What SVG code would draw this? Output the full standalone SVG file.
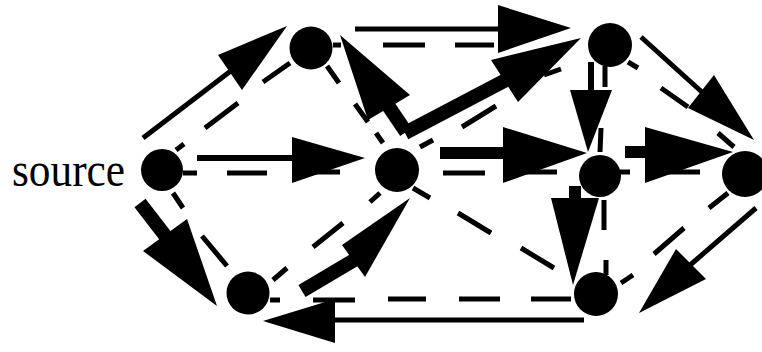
<svg xmlns="http://www.w3.org/2000/svg" width="762" height="352" viewBox="0 0 762 352">
<style>
.n{fill:#000}
.s{stroke:#000;stroke-width:5;fill:none}
.m{stroke:#000;stroke-width:12;fill:none}
.t{stroke:#000;stroke-width:14;fill:none}
.d{stroke:#000;stroke-width:5;fill:none}
.h{fill:#000}
text{font-family:"Liberation Serif","Times New Roman",serif;font-size:48px;fill:#000}
</style>
<rect width="762" height="352" fill="#fff"/>
<g id="connectors">
  <g id="e-S-A"><line class="s" x1="143" y1="138" x2="232" y2="70"/><polygon class="h" points="287,26 218,55 242,90"/></g>
  <g id="e-A-D"><line class="s" x1="355" y1="29" x2="500" y2="29"/><polygon class="h" points="571,28 498,5 498,53"/></g>
  <g id="e-C-A"><line class="t" x1="406" y1="132" x2="387" y2="104"/><polygon class="h" points="340,35 410,95 368,120"/></g>
  <g id="e-C-D"><line class="t" x1="405" y1="133" x2="506" y2="80"/><polygon class="h" points="581,38 491,60 518,102"/></g>
  <g id="e-S-C"><line class="s" x1="197" y1="158" x2="295" y2="158" style="stroke-width:6"/><polygon class="h" points="365,158 292,137 292,183"/></g>
  <g id="e-C-E"><line class="m" x1="440" y1="153" x2="506" y2="153"/><polygon class="h" points="587,153 503,127 503,183"/></g>
  <g id="e-E-F"><line class="m" x1="625" y1="152" x2="648" y2="152"/><polygon class="h" points="733,152 645,127 645,183"/></g>
  <g id="e-D-E"><line class="s" x1="591" y1="62" x2="591" y2="92" style="stroke-width:6"/><polygon class="h" points="588,152 570,90 612,90"/></g>
  <g id="e-E-G"><line class="m" x1="575" y1="186" x2="575" y2="200"/><polygon class="h" points="573,285 551,198 599,198"/></g>
  <g id="e-D-F"><line class="s" x1="641" y1="37" x2="703" y2="93"/><polygon class="h" points="754,140 714,75 688,108"/></g>
  <g id="e-F-G"><line class="s" x1="756" y1="208" x2="689" y2="266"/><polygon class="h" points="639,313 676,249 706,279"/></g>
  <g id="e-G-B"><line class="s" x1="584" y1="320" x2="333" y2="320"/><polygon class="h" points="263,321 335,299 335,343"/></g>
  <g id="e-S-B"><line class="t" x1="140" y1="203" x2="167" y2="238"/><polygon class="h" points="217,306 143,251 187,219"/></g>
  <g id="e-B-C"><line class="t" x1="302" y1="291" x2="356" y2="259"/><polygon class="h" points="410,198 342,245 365,277"/></g>
  <path class="d" d="M176,150 L184,144 M205,128 L238,103 M263,82 L290,63"/>
  <path class="d" d="M327,66 L339,83 M355,104 L368,122 M376,133 L383,143"/>
  <path class="d" d="M333,45 L341,45 M383,45 L425,45 M455,45 L494,45"/>
  <path class="d" d="M420,147 L433,140 M462,127 L496,106 M544,75 L561,69"/>
  <path class="d" d="M183,173 L197,173 M227,173 L267,173 M300,172 L340,172"/>
  <path class="d" d="M443,173 L485,173 M515,172 L557,172"/>
  <path class="d" d="M620,172 L630,172 M653,172 L700,172"/>
  <path class="d" d="M605,66 L605,87 M601,128 L600,152"/>
  <path class="d" d="M604,200 L604,230 M606,260 L606,275"/>
  <path class="d" d="M628,62 L638,68 M661,88 L688,107 M718,133 L734,147"/>
  <path class="d" d="M709,208 L728,193 M654,254 L684,228 M621,283 L633,275"/>
  <path class="d" d="M270,300 L280,300 M313,300 L355,300 M388,299 L426,299 M459,299 L500,299 M531,299 L571,299"/>
  <path class="d" d="M173,193 L183,208 M202,236 L227,266"/>
  <path class="d" d="M273,280 L287,268 M313,247 L343,223 M370,202 L380,193"/>
  <path class="d" d="M413,188 L430,198 M458,213 L491,233 M521,248 L554,268"/>
</g>
<g id="node-source"><circle class="n" cx="162" cy="170" r="21"/><text x="12" y="186" textLength="113" lengthAdjust="spacingAndGlyphs">source</text></g>
<g id="node-A"><circle class="n" cx="311" cy="48" r="21.5"/></g>
<g id="node-C"><circle class="n" cx="397" cy="170" r="22"/></g>
<g id="node-B"><circle class="n" cx="248" cy="293" r="21.5"/></g>
<g id="node-D"><circle class="n" cx="610" cy="45" r="22"/></g>
<g id="node-E"><circle class="n" cx="600" cy="176" r="21"/></g>
<g id="node-F"><circle class="n" cx="745" cy="174" r="23"/></g>
<g id="node-G"><circle class="n" cx="596" cy="294" r="22"/></g>
</svg>
